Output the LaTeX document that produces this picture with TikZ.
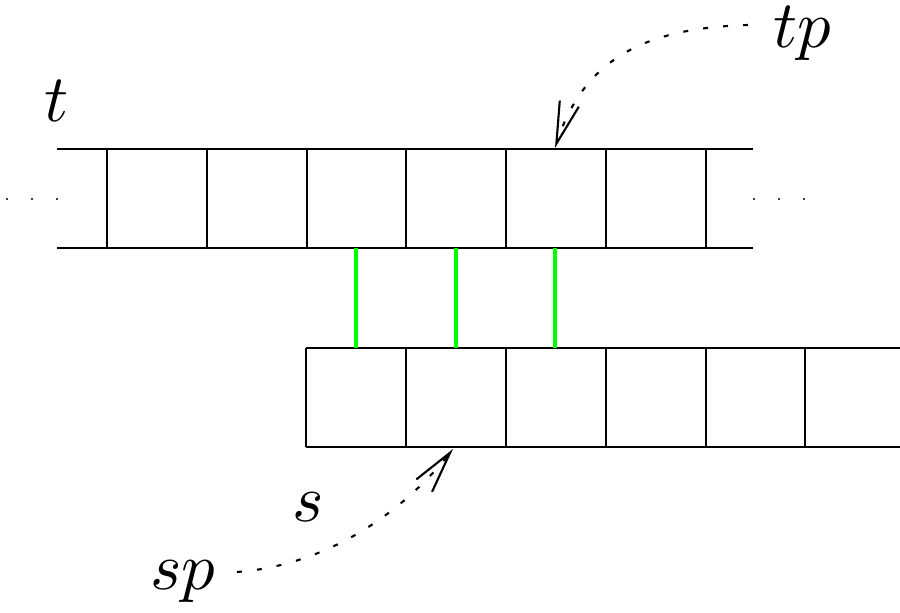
\documentclass[tikz,border=0pt]{standalone}
\usepackage{graphicx}
\usetikzlibrary{arrows.meta}
\newcommand{\biglbl}[1]{\scalebox{1.9}{$#1$}}
\begin{document}
\begin{tikzpicture}[x=0.01cm,y=-0.01cm,
  tape/.style={line width=0.6pt,black},
  link/.style={line width=1.4pt,color=green},
  pointer/.style={line width=0.6pt,dash pattern=on 1.4pt off 4.3pt,
    -{Straight Barb[length=0.42cm,width=0.2cm]}},
  lbl/.style={inner sep=0pt,anchor=base west},
  dotmark/.style={fill=black}]
\useasboundingbox (0,0) rectangle (900,613);
% tape t
\draw[tape] (57,149) -- (753,149);
\draw[tape] (57,248) -- (753,248);
\foreach \x in {107,207,307,406,506,606,706}
  \draw[tape] (\x,149) -- (\x,248);
% tape s
\draw[tape] (306,348) -- (900,348);
\draw[tape] (306,447) -- (900,447);
\foreach \x in {306,406,506,606,706,805}
  \draw[tape] (\x,348) -- (\x,447);
% ellipses
\foreach \x in {7,32,57,754,779,804}
  \fill[dotmark] (\x,199) circle (1.2);
% links
\foreach \x [count=\i] in {356,456,555} {
  \coordinate (ta\i) at (\x,248);
  \coordinate (sa\i) at (\x,348);
  \draw[link] (ta\i) -- (sa\i);
}
% labels
\node[lbl] (tlab) at (44,122) {\biglbl{t}};
\node[lbl] (tplab) at (773,48) {\biglbl{tp}};
\node[lbl] (slab) at (292,522) {\biglbl{s}};
\node[lbl] (splab) at (150,590) {\biglbl{sp}};
% pointers
\coordinate (tpstart) at (748,25);
\coordinate (tptip) at (555,148);
\coordinate (spstart) at (237,572);
\coordinate (sptip) at (453,449);
\draw[pointer] (tpstart) .. controls (650,28) and (585,55) .. (tptip);
\draw[pointer] (spstart) .. controls (330,565) and (405,510) .. (sptip);
\end{tikzpicture}
\end{document}
